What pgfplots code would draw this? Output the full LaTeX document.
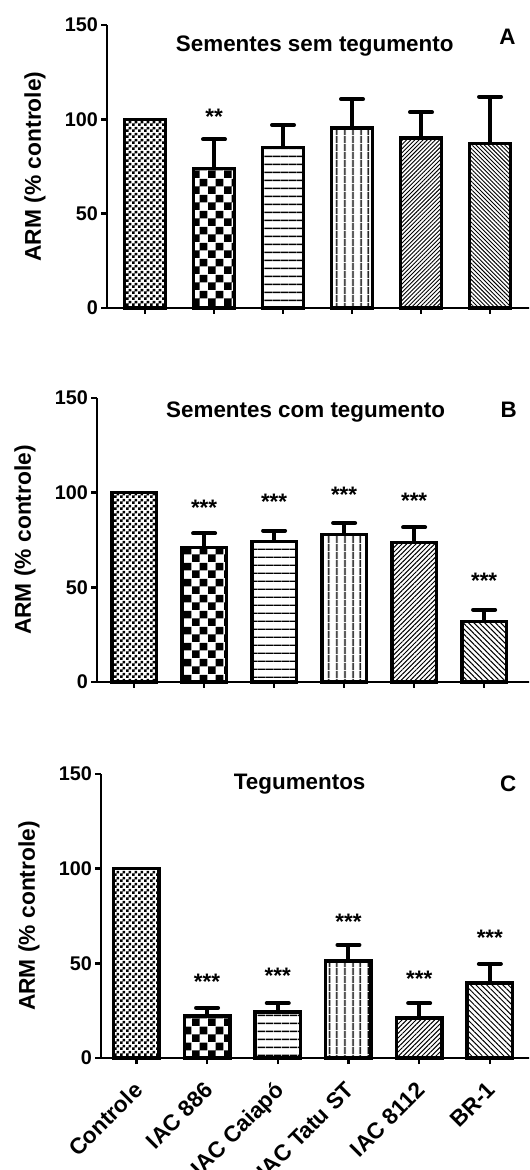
\documentclass[border=0pt]{standalone}
\usepackage{fontspec}
\setmainfont{Liberation Sans}
\usepackage{pgfplots}
\pgfplotsset{compat=1.18}
\usetikzlibrary{patterns,patterns.meta}

\pgfdeclarepatternformonly{finechecker}{\pgfqpoint{0pt}{0pt}}{\pgfqpoint{3pt}{3pt}}{\pgfqpoint{3pt}{3pt}}{%
  \pgfpathrectangle{\pgfqpoint{0pt}{0pt}}{\pgfqpoint{1.5pt}{1.5pt}}%
  \pgfpathrectangle{\pgfqpoint{1.5pt}{1.5pt}}{\pgfqpoint{1.5pt}{1.5pt}}%
  \pgfusepath{fill}}
\pgfdeclarepatternformonly{coarsechecker}{\pgfqpoint{0pt}{0pt}}{\pgfqpoint{8pt}{8pt}}{\pgfqpoint{8pt}{8pt}}{%
  \pgfpathrectangle{\pgfqpoint{0pt}{0pt}}{\pgfqpoint{4pt}{4pt}}%
  \pgfpathrectangle{\pgfqpoint{4pt}{4pt}}{\pgfqpoint{4pt}{4pt}}%
  \pgfusepath{fill}}

\newcommand\lbl{\bfseries\fontsize{11.2}{13}\selectfont}
\newcommand\tlbl{\bfseries\fontsize{9.9}{12}\selectfont}
\newcommand\xlbl{\bfseries\fontsize{11.3}{13}\selectfont}
\newcommand\ylbl{\bfseries\fontsize{11.4}{13}\selectfont}

\pgfplotsset{
  panel/.style={
    scale only axis, anchor=south west,
    axis x line*=bottom, axis y line*=left,
    axis line style={line width=1.2pt},
    ymin=0, ymax=150, ytick={0,50,100,150},
    xtick={0,...,5},
    tick style={line width=1.2pt, black},
    major tick length=3pt,
    tick align=outside,
    /pgf/number format/assume math mode=true,
    tick label style={font=\tlbl},
    yticklabel style={inner sep=1.3pt},
    ylabel={ARM (\% controle)},
    every axis y label/.style={at={(axis description cs:0,0.5)}, xshift=-30.5pt, rotate=90, anchor=south, inner sep=0pt, font=\ylbl},
    clip=false,
  },
  cbar/.style={ybar, bar shift=0pt, draw=black, line width=1.75pt},
  ebar/.style={ybar, bar shift=0pt, draw=black, line width=1.75pt,
    error bars/y dir=plus, error bars/y explicit,
    error bars/error bar style={line width=2pt, black},
    error bars/error mark options={rotate=90, line width=2pt, mark size=5.5pt, black, line cap=round}},
  stars/.style={draw=none, mark=none, nodes near coords, point meta=explicit symbolic,
    every node near coord/.append style={anchor=base, font=\lbl, inner sep=0pt}},
}

\begin{document}
\begin{tikzpicture}[x=1pt,y=1pt]
\useasboundingbox (0,0) rectangle (264.5,585);
\clip (0,0) rectangle (264.5,585);

% ---------------- Panel A
\begin{axis}[panel, at={(53.5pt,431pt)}, x=34.5pt, y=0.9433pt,
  xmin=-0.551, xmax=5.6, xticklabels={}, bar width=0.60]
\addplot[cbar, pattern=finechecker] coordinates {(0,100)};
\addplot[ebar, pattern=coarsechecker] coordinates {(1,74) +- (0,15.4)};
\addplot[ebar, pattern={Lines[angle=0,distance=3.85pt,line width=0.75pt]}] coordinates {(2,85) +- (0,12)};
\addplot[ebar, pattern={Lines[angle=90,distance=4pt,line width=0.75pt]}] coordinates {(3,95.3) +- (0,15.4)};
\addplot[ebar, pattern={Lines[angle=45,distance=1.45pt,line width=0.45pt]}] coordinates {(4,90) +- (0,13.8)};
\addplot[ebar, pattern={Lines[angle=-45,distance=1.45pt,line width=0.45pt]}] coordinates {(5,87.3) +- (0,24.7)};
\addplot[stars] coordinates {(1,97.2) [**]};
\node[font=\lbl, anchor=base] at (axis cs:2.46,135.7) {Sementes sem tegumento};
\node[font=\lbl, anchor=base west, inner sep=0pt] at (axis cs:5.13,139.4) {A};
\end{axis}

% ---------------- Panel B
\begin{axis}[panel, at={(48.5pt,244pt)}, x=35pt, y=0.9467pt,
  xmin=-0.53, xmax=5.7, xticklabels={}, bar width=0.636]
\addplot[cbar, pattern=finechecker] coordinates {(0,100)};
\addplot[ebar, pattern=coarsechecker] coordinates {(1,71) +- (0,7.5)};
\addplot[ebar, pattern={Lines[angle=0,distance=3.85pt,line width=0.75pt]}] coordinates {(2,74.3) +- (0,5.7)};
\addplot[ebar, pattern={Lines[angle=90,distance=4pt,line width=0.75pt]}] coordinates {(3,78) +- (0,6)};
\addplot[ebar, pattern={Lines[angle=45,distance=1.65pt,line width=0.5pt]}] coordinates {(4,73.8) +- (0,7.9)};
\addplot[ebar, pattern={Lines[angle=-45,distance=1.9pt,line width=0.5pt]}] coordinates {(5,31.9) +- (0,6.3)};
\addplot[stars] coordinates {(1,87.7) [***] (2,90.9) [***] (3,94.6) [***] (4,91.5) [***] (5,49.2) [***]};
\node[font=\lbl, anchor=base] at (axis cs:2.45,139.5) {Sementes com tegumento};
\node[font=\lbl, anchor=base west, inner sep=0pt] at (axis cs:5.23,139.5) {B};
\end{axis}

% ---------------- Panel C
\begin{axis}[panel, at={(50.5pt,56pt)}, x=35.35pt, y=0.9467pt,
  xmin=-0.50, xmax=5.7, bar width=0.643,
  xticklabels={Controle, IAC 886, IAC Caiapó, IAC Tatu ST, IAC 8112, BR-1},
  xticklabel style={font=\xlbl, anchor=north east, inner sep=1pt, xshift=-2pt, yshift=-6.5pt, rotate=45}]
\addplot[cbar, pattern=finechecker] coordinates {(0,100)};
\addplot[ebar, pattern=coarsechecker] coordinates {(1,22.2) +- (0,4.3)};
\addplot[ebar, pattern={Lines[angle=0,distance=3.85pt,line width=0.75pt]}] coordinates {(2,24.3) +- (0,4.7)};
\addplot[ebar, pattern={Lines[angle=90,distance=4pt,line width=0.75pt]}] coordinates {(3,51.3) +- (0,8.4)};
\addplot[ebar, pattern={Lines[angle=45,distance=1.65pt,line width=0.5pt]}] coordinates {(4,21.2) +- (0,7.8)};
\addplot[ebar, pattern={Lines[angle=-45,distance=1.9pt,line width=0.5pt]}] coordinates {(5,39.7) +- (0,10)};
\addplot[stars] coordinates {(1,36) [***] (2,39.2) [***] (3,67.7) [***] (4,37.6) [***] (5,59.2) [***]};
\node[font=\lbl, anchor=base] at (axis cs:2.31,141.6) {Tegumentos};
\node[font=\lbl, anchor=base west, inner sep=0pt] at (axis cs:5.14,140.5) {C};
\end{axis}
\end{tikzpicture}
\end{document}
